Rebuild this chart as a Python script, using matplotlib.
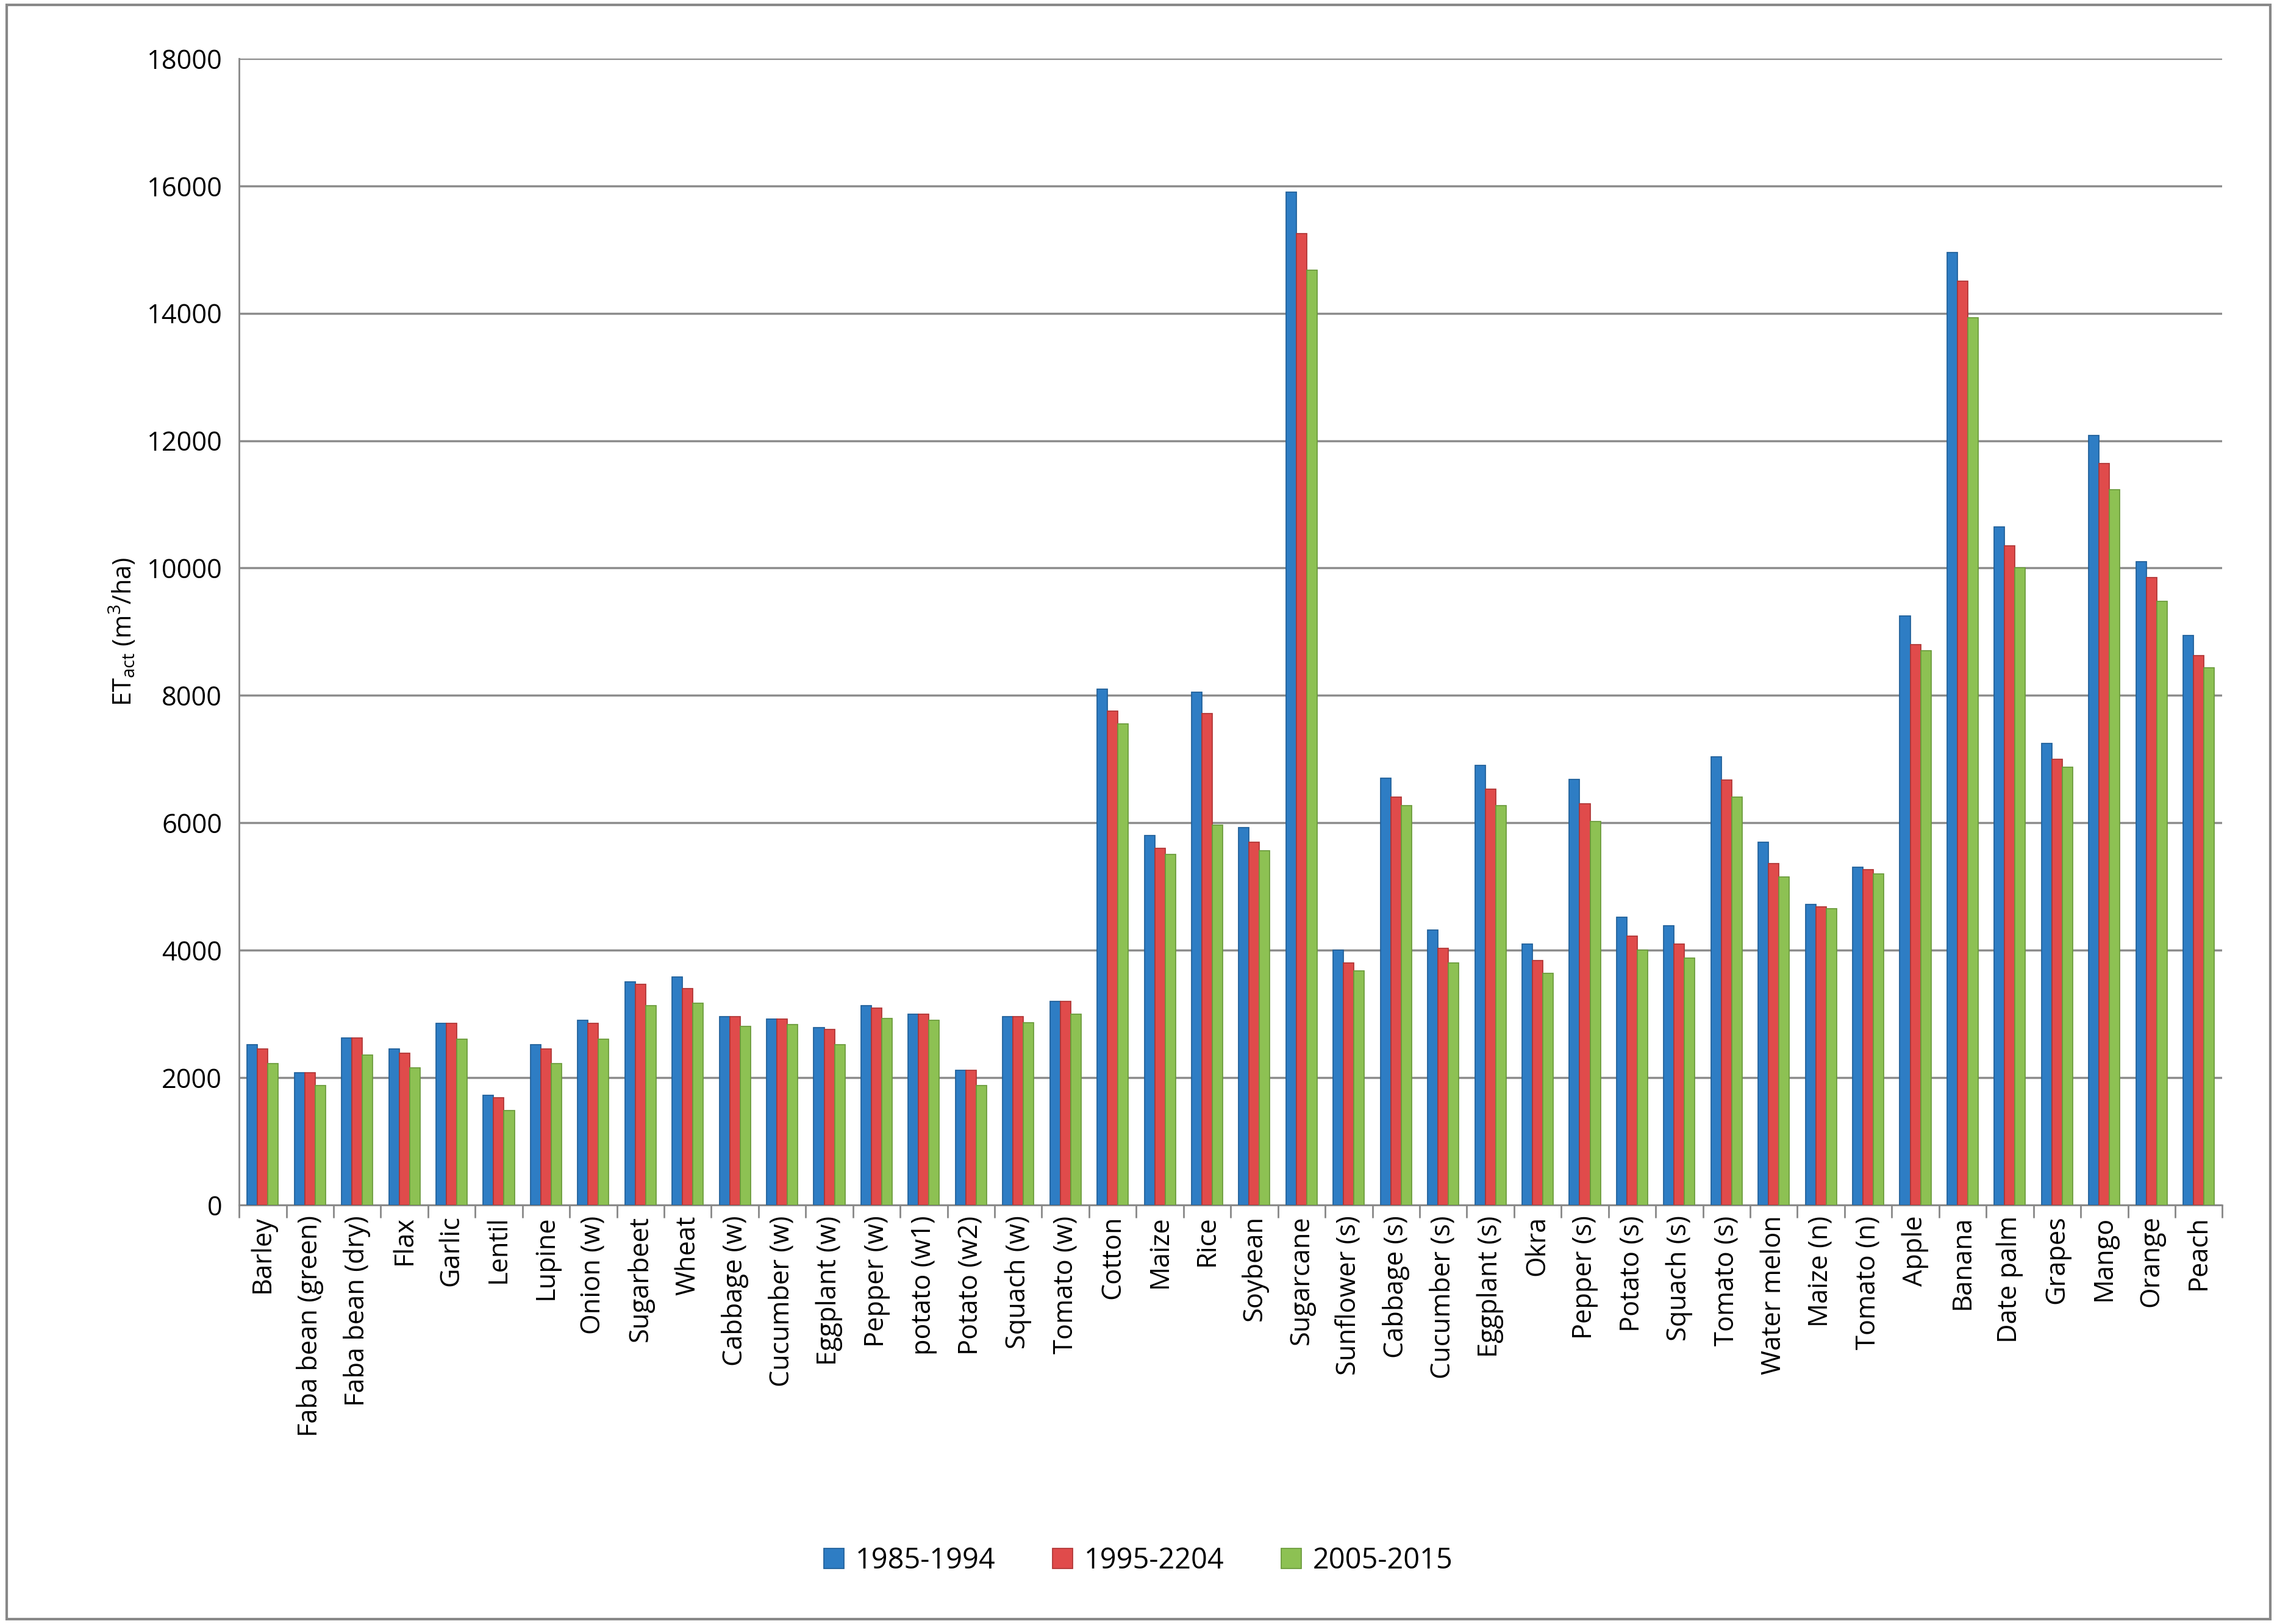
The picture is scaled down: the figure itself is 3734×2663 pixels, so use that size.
import matplotlib
matplotlib.use("Agg")
import matplotlib.pyplot as plt
import numpy as np

plt.rcParams['font.family'] = ['Open Sans', 'DejaVu Sans']

crops = ["Barley","Faba bean (green)","Faba bean (dry)","Flax","Garlic","Lentil","Lupine","Onion (w)",
         "Sugarbeet","Wheat","Cabbage (w)","Cucumber (w)","Eggplant (w)","Pepper (w)","potato (w1)",
         "Potato (w2)","Squach (w)","Tomato (w)","Cotton","Maize","Rice","Soybean","Sugarcane",
         "Sunflower (s)","Cabbage (s)","Cucumber (s)","Eggplant (s)","Okra","Pepper (s)","Potato (s)",
         "Squach (s)","Tomato (s)","Water melon","Maize (n)","Tomato (n)","Apple","Banana","Date palm",
         "Grapes","Mango","Orange","Peach"]
p1985 = [2520,2080,2620,2450,2850,1720,2520,2900,3500,3580,2960,2920,2790,3130,3000,2120,2960,3200,
         8100,5800,8050,5930,15900,4000,6700,4320,6900,4100,6680,4520,4380,7040,5700,4720,5300,
         9250,14950,10650,7250,12080,10100,8940]
p1995 = [2450,2080,2620,2380,2850,1680,2450,2850,3470,3400,2960,2920,2760,3090,3000,2120,2960,3200,
         7750,5600,7720,5700,15250,3800,6400,4030,6530,3840,6300,4220,4100,6670,5360,4680,5270,
         8800,14500,10350,7000,11640,9850,8630]
p2005 = [2220,1880,2350,2150,2600,1480,2220,2600,3130,3170,2800,2830,2520,2930,2900,1880,2860,3000,
         7550,5500,5960,5560,14680,3680,6270,3800,6270,3640,6020,4000,3880,6400,5150,4650,5200,
         8700,13930,10000,6870,11230,9480,8430]
series = ["1985-1994","1995-2204","2005-2015"]
colors = ["#2e7dc4","#e04b4b","#8dc153"]
edges = ["#1f5f99","#b03535","#6a9a3a"]

fig = plt.figure(figsize=(14.936, 10.652), dpi=250)
ax = fig.add_axes([0.105, 0.252 + 0.006, 0.871, 0.706])
x = np.arange(len(crops))
w = 0.22
for i, (vals, c, e, lab) in enumerate(zip([p1985, p1995, p2005], colors, edges, series)):
    ax.bar(x + (i-1)*w, vals, w, color=c, edgecolor=e, linewidth=0.5, label=lab, zorder=3)

ax.set_xlim(-0.5, len(crops)-0.5)
ax.set_ylim(0, 18000)
ax.set_yticks(range(0, 18001, 2000))
ax.tick_params(axis='y', labelsize=12.5, length=0, pad=8)
ax.set_xticks(np.arange(-0.5, len(crops), 1), minor=False)
ax.set_xticklabels([])
ax.tick_params(axis='x', length=6, color='#888888')
ax.set_xticks(x, minor=True)
ax.set_xticklabels(crops, minor=True, rotation=90, fontsize=12.5)
ax.tick_params(axis='x', which='minor', length=0, pad=5)
ax.grid(axis='y', color='#8c8c8c', linewidth=1.0, zorder=0)
for s in ['top', 'right']:
    ax.spines[s].set_visible(False)
ax.spines['left'].set_color('#888888')
ax.spines['bottom'].set_color('#888888')
ax.set_ylabel("ET$_{\\mathregular{act}}$ (m$^{\\mathregular{3}}$/ha)", fontsize=12)
fig.legend(loc='center', bbox_to_anchor=(0.5, 0.039), ncol=3, frameon=False, fontsize=13.5,
           handlelength=0.7, handleheight=0.7, columnspacing=2.0, handletextpad=0.4)
fig.patches.append(plt.Rectangle((0.003, 0.003), 0.994, 0.994, transform=fig.transFigure,
                                 fill=False, edgecolor='#888888', linewidth=1.2))
fig.savefig("out.png", dpi=250)
